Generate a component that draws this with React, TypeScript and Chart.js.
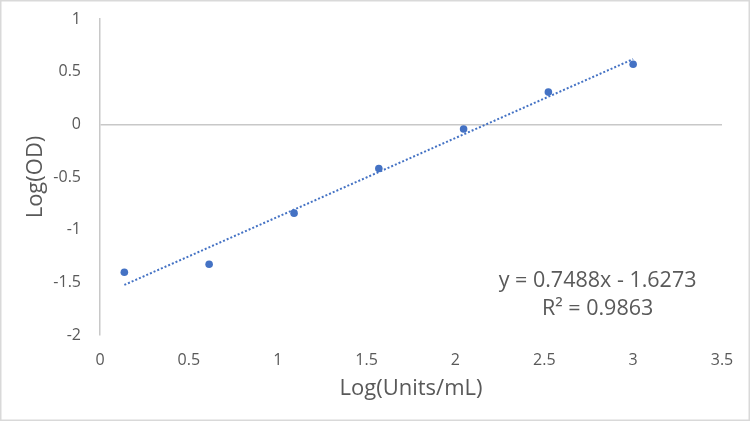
import React, { useEffect, useRef } from "react";
import { Chart, registerables } from "chart.js";

Chart.register(...registerables);

const xValues = [0.137, 0.614, 1.092, 1.569, 2.046, 2.523, 3.0];
const yValues = [-1.404, -1.328, -0.843, -0.42, -0.044, 0.306, 0.57];
const slope = 0.7488;
const intercept = -1.6273;
const equationText = "y = 0.7488x - 1.6273";
const r2Text = "R² = 0.9863";
const xTitle = "Log(Units/mL)";
const yTitle = "Log(OD)";

const FONT = "'Open Sans', 'Liberation Sans', sans-serif";
const BLUE = "#4472C4";
const TEXT = "#595959";
const AXIS = "#c8c8c8";

const bgPlugin = {
  id: "bgBorder",
  beforeDraw(chart: any) {
    const { ctx, width, height } = chart;
    ctx.save();
    ctx.fillStyle = "#ffffff";
    ctx.fillRect(0, 0, width, height);
    ctx.restore();
  },
  afterDraw(chart: any) {
    const { ctx, width, height } = chart;
    ctx.save();
    ctx.strokeStyle = "#d9d9d9";
    ctx.lineWidth = 1.5;
    ctx.strokeRect(0.75, 0.75, width - 1.5, height - 1.5);
    ctx.restore();
  },
};

const equationPlugin = {
  id: "equation",
  afterDatasetsDraw(chart: any) {
    const { ctx, scales } = chart;
    const cx = scales.x.getPixelForValue(2.8);
    const cy = scales.y.getPixelForValue(-1.49);
    ctx.save();
    ctx.fillStyle = TEXT;
    ctx.font = `21.5px ${FONT}`;
    ctx.textAlign = "center";
    ctx.textBaseline = "middle";
    ctx.fillText(equationText, cx, cy);
    ctx.fillText(r2Text, cx, cy + 28);
    ctx.restore();
  },
};

export default function App() {
  const ref = useRef<HTMLCanvasElement | null>(null);

  useEffect(() => {
    if (!ref.current) return;
    const points = xValues.map((x, i) => ({ x, y: yValues[i] }));
    const xStart = xValues[0];
    const xEnd = xValues[xValues.length - 1];
    const trend = [
      { x: xStart, y: slope * xStart + intercept },
      { x: xEnd, y: slope * xEnd + intercept },
    ];
    const chart = new Chart(ref.current, {
      type: "scatter",
      data: {
        datasets: [
          {
            label: "Data",
            data: points,
            backgroundColor: BLUE,
            borderColor: BLUE,
            pointRadius: 3.8,
            pointBorderWidth: 0,
            order: 1,
          },
          {
            label: "Trend",
            type: "line",
            data: trend,
            borderColor: BLUE,
            borderWidth: 2,
            borderDash: [2, 2],
            pointRadius: 0,
            fill: false,
            order: 2,
          } as any,
        ],
      },
      plugins: [bgPlugin, equationPlugin],
      options: {
        animation: false,
        responsive: false,
        maintainAspectRatio: false,
        devicePixelRatio: 1,
        layout: { padding: { left: 0, top: 19, right: 28, bottom: 0 } },
        plugins: {
          legend: { display: false },
          tooltip: { enabled: false },
        },
        scales: {
          x: {
            type: "linear",
            position: "bottom",
            min: 0,
            max: 3.5,
            ticks: {
              stepSize: 0.5,
              color: TEXT,
              font: { family: FONT, size: 16 },
              padding: 16,
              callback: (v: any) => String(v),
            },
            grid: { display: false, drawTicks: false },
            border: { display: false },
            title: {
              display: true,
              text: xTitle,
              color: TEXT,
              font: { family: FONT, size: 22 },
              padding: { top: 0, bottom: 19 },
            },
            afterFit: (scale: any) => {
              scale.height = 86;
              scale.paddingLeft = 0;
              scale.paddingRight = 0;
            },
          },
          y: {
            type: "linear",
            min: -2,
            max: 1,
            ticks: {
              stepSize: 0.5,
              color: TEXT,
              font: { family: FONT, size: 16 },
              padding: 19,
              callback: (v: any) => String(v),
            },
            grid: {
              drawTicks: false,
              lineWidth: 1.5,
              color: (ctx: any) => (ctx.tick && ctx.tick.value === 0 ? AXIS : "rgba(0,0,0,0)"),
            },
            border: { display: true, color: AXIS, width: 1.5 },
            title: {
              display: true,
              text: yTitle,
              color: TEXT,
              font: { family: FONT, size: 22 },
              padding: { top: 23, bottom: 0 },
            },
            afterFit: (scale: any) => {
              scale.width = 100;
              scale.paddingTop = 0;
              scale.paddingBottom = 0;
            },
          },
        },
      },
    });
    return () => chart.destroy();
  }, []);

  return (
    <div style={{ position: "fixed", left: 0, top: 0, width: 750, height: 421 }}>
      <canvas ref={ref} width={750} height={421} style={{ display: "block", width: 750, height: 421 }} />
    </div>
  );
}
